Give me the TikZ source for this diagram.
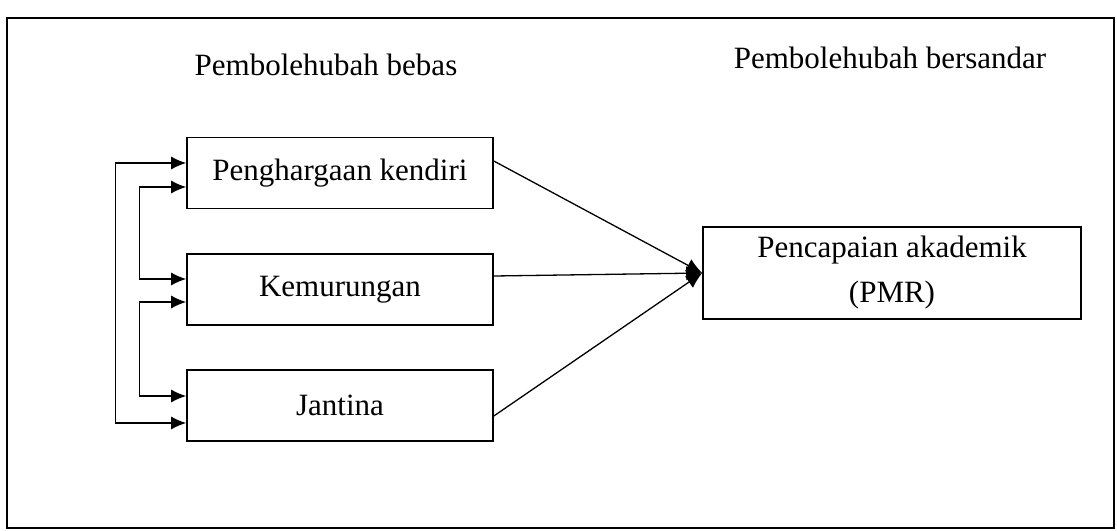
\documentclass[tikz,border=0pt]{standalone}
\usepackage{fontspec}
\setmainfont{Liberation Serif}
\usetikzlibrary{arrows.meta}

\begin{document}
\begin{tikzpicture}[x=0.5pt,y=-0.5pt,
    varbox/.style={draw,line width=0.8pt,minimum width=153pt,minimum height=35.5pt,
      inner sep=0pt,font=\fontsize{15.5}{22.5}\selectfont},
    head/.style={anchor=base,font=\fontsize{15.5}{18}\selectfont},
    link/.style={line width=0.65pt,-{Latex[length=8pt,width=7pt]}},
    both/.style={line width=0.65pt,{Latex[length=7.5pt,width=6.5pt]}-{Latex[length=7.5pt,width=6.5pt]}}]
  \useasboundingbox (0,0) rectangle (1117,530);

  %outer frame
  \draw[line width=0.8pt] (7,18) rectangle (1114,528);

  %column headings
  \node[head] (hbebas) at (326,75) {Pembolehubah bebas};
  \node[head] (hsandar) at (890,68) {Pembolehubah bersandar};

  %independent variables
  \node[varbox] (pen) at (340,173) {Penghargaan kendiri};
  \node[varbox] (kem) at (340,289.5) {Kemurungan};
  \node[varbox] (jan) at (340,405.5) {Jantina};

  %dependent variable
  \node[varbox,minimum width=189pt,minimum height=46pt,align=center] (pmr) at (892,273)
    {Pencapaian akademik\\(PMR)};

  %correlations on the left
  \draw[both] ([yshift=5pt]pen.west) -- ++(-71,0) |- ([yshift=-8.75pt]jan.west);
  \draw[both] ([yshift=-7pt]pen.west) -- ++(-47,0) |- ([yshift=5.25pt]kem.west);
  \draw[both] ([yshift=-6.25pt]kem.west) -- ++(-47,0) |- ([yshift=4.75pt]jan.west);

  %paths to the outcome
  \draw[link] ([yshift=6pt]pen.east) -- (pmr.west);
  \draw[link] ([yshift=6.75pt]kem.east) -- (pmr.west);
  \draw[link] ([yshift=-5.25pt]jan.east) -- (pmr.west);
\end{tikzpicture}
\end{document}
